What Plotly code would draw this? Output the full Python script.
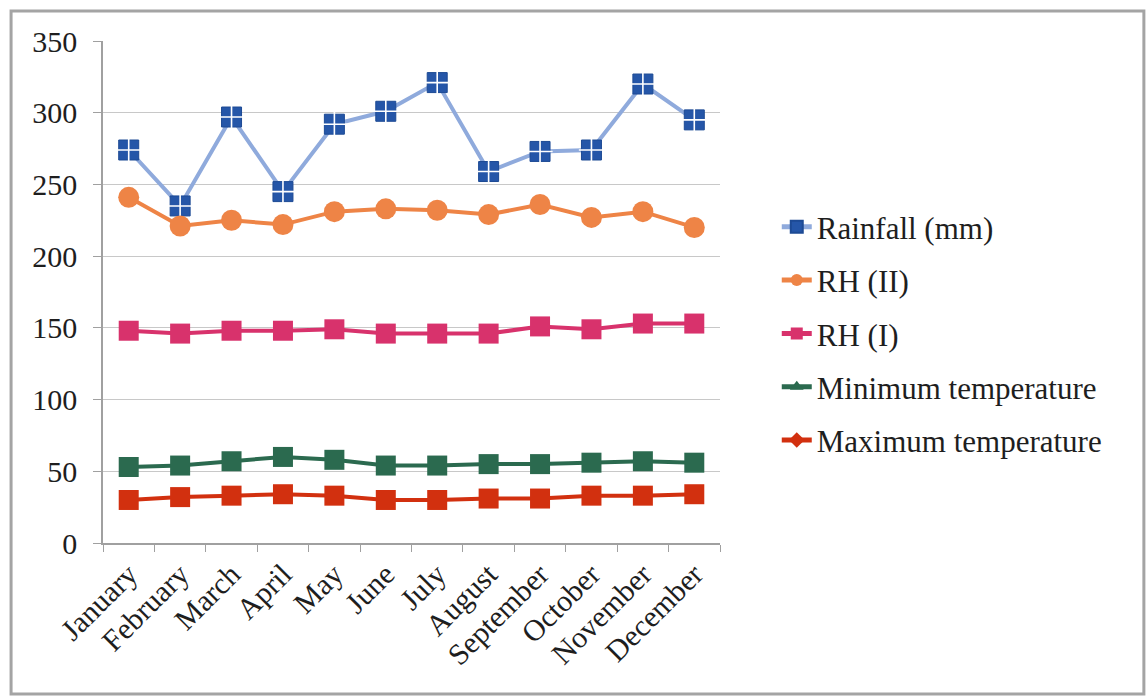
import plotly.graph_objects as go

months = ["January", "February", "March", "April", "May", "June", "July",
          "August", "September", "October", "November", "December"]

rainfall = [274, 235, 297, 245, 292, 301, 321, 259, 273, 274, 320, 295]
rh_ii = [241, 221, 225, 222, 231, 233, 232, 229, 236, 227, 231, 220]
rh_i = [148, 146, 148, 148, 149, 146, 146, 146, 151, 149, 153, 153]
min_temp = [53, 54, 57, 60, 58, 54, 54, 55, 55, 56, 57, 56]
max_temp = [30, 32, 33, 34, 33, 30, 30, 31, 31, 33, 33, 34]

y_ticks = [0, 50, 100, 150, 200, 250, 300, 350]

FONT = "Liberation Serif"
TEXT = "#1e1e1e"
LW = 4
MS = 20

fig = go.Figure()

# Rainfall: light-blue line, dark-blue squares split by a white cross
fig.add_trace(go.Scatter(
    x=months, y=rainfall, name="Rainfall (mm)", mode="lines+markers",
    line=dict(color="#8faadc", width=LW),
    marker=dict(symbol="square", size=MS, color="#2556a8",
                line=dict(color="#1d4a94", width=1)),
    legendgroup="rain", legendrank=1,
))
fig.add_trace(go.Scatter(
    x=months, y=rainfall, mode="markers", showlegend=False, hoverinfo="skip",
    marker=dict(symbol="cross-thin", size=MS - 2, color="white",
                line=dict(color="white", width=1.6)),
    legendgroup="rain",
))

fig.add_trace(go.Scatter(
    x=months, y=rh_ii, name="RH (II)", mode="lines+markers",
    line=dict(color="#ee8446", width=LW),
    marker=dict(symbol="circle", size=MS + 1, color="#ee8446"),
    legendgroup="rh2", legendrank=2,
))

fig.add_trace(go.Scatter(
    x=months, y=rh_i, name="RH (I)", mode="lines+markers",
    line=dict(color="#d8326c", width=LW),
    marker=dict(symbol="square", size=MS, color="#d8326c"),
    legendgroup="rh1", legendrank=3,
))

fig.add_trace(go.Scatter(
    x=months, y=min_temp, name="Minimum temperature", mode="lines+markers",
    line=dict(color="#2b6a4f", width=LW),
    marker=dict(symbol="square", size=MS, color="#2b6a4f"),
    showlegend=False, legendgroup="min",
))
fig.add_trace(go.Scatter(
    x=[None], y=[None], name="Minimum temperature", mode="lines+markers",
    line=dict(color="#2b6a4f", width=LW),
    marker=dict(symbol="triangle-up", size=MS - 4, color="#2b6a4f"),
    legendgroup="min", legendrank=4,
))

fig.add_trace(go.Scatter(
    x=months, y=max_temp, name="Maximum temperature", mode="lines+markers",
    line=dict(color="#d2300f", width=LW),
    marker=dict(symbol="square", size=MS, color="#d2300f"),
    showlegend=False, legendgroup="max",
))
fig.add_trace(go.Scatter(
    x=[None], y=[None], name="Maximum temperature", mode="lines+markers",
    line=dict(color="#d2300f", width=LW),
    marker=dict(symbol="diamond", size=MS - 4, color="#d2300f"),
    legendgroup="max", legendrank=5,
))

# Outer frame around the whole chart
fig.add_shape(type="rect", xref="paper", yref="paper",
              x0=-0.149, x1=1.687, y0=-0.301, y1=1.060,
              line=dict(color="#a4a4a4", width=3), layer="below")

fig.update_layout(
    width=1147, height=700,
    margin=dict(l=103, r=427, t=41, b=157),
    paper_bgcolor="white", plot_bgcolor="white",
    font=dict(family=FONT, color=TEXT),
    legend=dict(
        x=1.092, xanchor="left", y=0.417, yanchor="middle",
        font=dict(family=FONT, size=31, color=TEXT),
        tracegroupgap=10, itemsizing="constant",
        traceorder="grouped",
    ),
    showlegend=True,
)

fig.update_xaxes(
    type="category", categoryorder="array", categoryarray=months,
    tickangle=-45, tickfont=dict(family=FONT, size=30, color=TEXT),
    showline=True, linecolor="#a0a0a0", linewidth=1.5,
    ticks="outside", ticklen=7, tickcolor="#a0a0a0", tickson="boundaries",
    showgrid=False, range=[-0.5, 11.5],
)
fig.update_yaxes(
    range=[0, 350], tickvals=y_ticks,
    tickfont=dict(family=FONT, size=30, color=TEXT),
    showline=True, linecolor="#a0a0a0", linewidth=1.5,
    ticks="outside", ticklen=8, tickcolor="#a0a0a0",
    showgrid=True, gridcolor="#c8c8c8", gridwidth=1,
    zeroline=False, ticklabelstandoff=10,
)

fig.write_html("out.html")
